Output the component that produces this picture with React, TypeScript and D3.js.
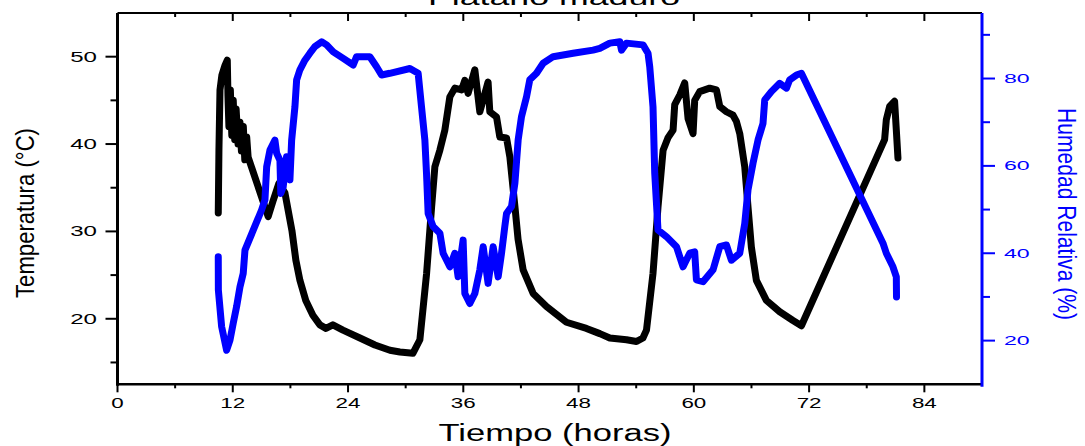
import React from "react";
import * as d3 from "d3";

const chartTitle = "Plátano maduro";
const xTitle = "Tiempo (horas)";
const yLeftTitle = "Temperatura (°C)";
const yRightTitle = "Humedad Relativa (%)";

const xMajorTicks = [0, 12, 24, 36, 48, 60, 72, 84];
const xMinorTicks = [6, 18, 30, 42, 54, 66, 78];
const yLeftMajorTicks = [20, 30, 40, 50];
const yLeftMinorTicks = [15, 25, 35, 45];
const yRightMajorTicks = [20, 40, 60, 80];
const yRightMinorTicks = [30, 50, 70, 90];

const tempHours = [
  10.49, 10.56, 10.67, 10.87, 11.19, 11.43, 11.5, 11.6, 11.75, 11.9, 12.05, 12.2, 12.35, 12.55,
  12.75, 12.9, 13.1, 13.25, 13.45, 13.6, 15.69, 16.2, 16.8, 17.43, 18.16, 18.57, 18.99, 19.6,
  20.34, 21.07, 21.7, 22.42, 23.47, 25.24, 26.8, 28.36, 29.4, 30.75, 31.48, 32.18, 32.7, 33.04,
  33.56, 34.08, 34.6, 35.12, 35.82, 36.16, 36.5, 37.2, 37.72, 38.58, 38.76, 39.46, 39.8, 40.5,
  40.85, 41.37, 41.7, 42.23, 43.27, 44.66, 46.74, 48.82, 50.21, 51.25, 52.99, 54.03, 54.7, 55.07,
  55.75, 56.27, 56.8, 57.3, 57.84, 58.01, 58.53, 59.05, 59.4, 59.92, 60.09, 60.61, 61.65, 62.35,
  62.7, 63.39, 64.08, 64.43, 64.78, 65.3, 65.64, 65.99, 66.51, 67.55, 68.94, 70.32, 71.2, 79.86,
  80.04, 80.38, 80.9, 81.08, 81.25,
];
const tempValues = [
  32.1, 39.3, 46.2, 47.9, 49.0, 49.6, 45.5, 42.0, 46.2, 41.0, 45.0, 40.5, 44.0, 40.0,
  42.5, 39.2, 42.0, 38.2, 40.8, 38.5, 31.7, 33.5, 35.5, 34.4, 30.1, 26.7, 24.4, 22.1,
  20.4, 19.3, 18.9, 19.3, 18.7, 17.8, 17.0, 16.4, 16.2, 16.05, 17.6, 25.2, 32.8, 37.4,
  39.3, 41.6, 45.4, 46.4, 46.2, 47.3, 45.8, 48.5, 43.7, 47.1, 43.7, 43.1, 40.8, 40.7,
  38.5, 32.9, 29.1, 25.6, 22.9, 21.4, 19.6, 18.9, 18.3, 17.8, 17.6, 17.4, 17.8, 18.7,
  25.2, 32.8, 39.3, 40.7, 41.6, 44.5, 45.6, 47.0, 42.9, 41.2, 45.0, 46.0, 46.4, 46.2,
  44.3, 43.7, 43.3, 42.6, 41.2, 37.4, 32.8, 28.2, 24.4, 22.1, 20.8, 19.8, 19.2, 40.5,
  42.8, 44.3, 44.9, 41.6, 38.4,
];

const humHours = [
  10.49, 10.5, 10.84, 11.36, 11.71, 12.05, 12.4, 12.75, 13.09, 13.27, 15.0, 15.35, 15.53, 15.87,
  16.39, 16.57, 16.91, 17.0, 17.25, 17.6, 17.95, 18.13, 18.47, 18.65, 18.99, 19.51, 20.03, 20.55,
  21.25, 21.77, 22.46, 23.5, 24.54, 24.89, 26.27, 26.97, 27.49, 28.35, 30.44, 31.3, 31.65, 32.0,
  32.17, 32.34, 32.86, 33.56, 33.9, 34.6, 35.12, 35.46, 35.98, 36.16, 36.68, 37.2, 37.72, 38.07,
  38.58, 39.11, 39.63, 39.98, 40.32, 40.5, 41.02, 41.37, 41.71, 42.06, 42.58, 42.92, 43.62, 44.31,
  45.35, 47.43, 49.51, 50.21, 51.25, 52.29, 52.47, 52.99, 54.71, 55.23, 55.41, 55.75, 55.93, 56.27,
  57.15, 58.19, 58.88, 59.57, 60.09, 60.27, 60.96, 62.0, 62.7, 63.39, 63.91, 64.78, 65.3, 65.64,
  66.16, 66.68, 67.2, 67.38, 68.07, 68.94, 69.64, 69.98, 70.68, 71.2, 79.69, 80.04, 80.73, 81.08,
  81.1,
];
const humValues = [
  39.2, 31.6, 23.2, 17.8, 20.1, 24.0, 27.8, 32.3, 35.4, 40.7, 49.9, 52.2, 59.8, 63.6,
  65.9, 62.9, 61.3, 53.7, 55.2, 62.1, 56.8, 65.9, 73.5, 79.7, 82.0, 84.2, 85.8, 87.3,
  88.4, 87.7, 86.1, 84.6, 83.1, 85.0, 85.0, 82.7, 80.8, 81.2, 82.3, 81.2, 73.5, 65.9,
  58.3, 49.1, 46.1, 44.6, 40.0, 36.9, 40.0, 34.6, 43.0, 30.8, 28.5, 30.8, 36.2, 41.5,
  33.1, 41.5, 34.6, 40.0, 46.1, 49.1, 50.7, 56.0, 65.9, 71.3, 75.8, 79.7, 81.2, 83.5,
  85.0, 85.8, 86.5, 86.9, 88.1, 88.4, 86.5, 88.1, 87.7, 85.8, 82.7, 73.5, 58.3, 45.3,
  43.8, 41.5, 36.9, 40.0, 40.3, 33.9, 33.5, 36.2, 41.5, 41.9, 38.4, 40.0, 46.8, 54.5,
  60.6, 65.9, 69.7, 75.1, 77.0, 78.9, 77.8, 79.7, 80.8, 81.2, 42.3, 40.0, 36.9, 34.6,
  30.0,
];

const FONT = "'Liberation Sans', Arial, Helvetica, sans-serif";
const BLUE = "#0000ff";

export default function App() {
  const left = 117.5;
  const right = 982;
  const top = 13;
  const bottom = 384.3;

  const x = d3.scaleLinear().domain([0, 90]).range([left, right]);
  const yT = d3.scaleLinear().domain([12.5, 55]).range([bottom, top]);
  const yH = d3.scaleLinear().domain([10, 95]).range([bottom, top]);

  const tempLine = d3
    .line<number>()
    .x((_, i) => x(tempHours[i]))
    .y((v) => yT(v));
  const humLine = d3
    .line<number>()
    .x((_, i) => x(humHours[i]))
    .y((v) => yH(v));

  return (
    <svg
      width={1085}
      height={446}
      style={{ position: "absolute", left: 0, top: 0, background: "#fff" }}
      fontFamily={FONT}
    >
      <rect x={0} y={0} width={1085} height={446} fill="#fff" />
      {/* title, partially cut off as in the reference */}
      <text x={554} y={5} textAnchor="middle" fontSize={22} textLength={252} lengthAdjust="spacingAndGlyphs" fill="#000">
        {chartTitle}
      </text>

      {/* curves */}
      <path d={tempLine(tempValues) || ""} fill="none" stroke="#000" strokeWidth={7} strokeLinejoin="round" strokeLinecap="round" />
      <path d={humLine(humValues) || ""} fill="none" stroke={BLUE} strokeWidth={7} strokeLinejoin="round" strokeLinecap="round" />

      {/* top frame */}
      <line x1={left} x2={right} y1={top} y2={top} stroke="#000" strokeWidth={2} />
      {xMajorTicks.map((t) => (
        <line key={"tM" + t} x1={x(t)} x2={x(t)} y1={top} y2={top + 8} stroke="#000" strokeWidth={2} />
      ))}
      {xMinorTicks.map((t) => (
        <line key={"tm" + t} x1={x(t)} x2={x(t)} y1={top} y2={top + 4} stroke="#000" strokeWidth={2} />
      ))}

      {/* bottom axis */}
      <line x1={left} x2={right} y1={bottom} y2={bottom} stroke="#000" strokeWidth={2.5} />
      {xMajorTicks.map((t) => (
        <line key={"bM" + t} x1={x(t)} x2={x(t)} y1={bottom} y2={bottom + 8} stroke="#000" strokeWidth={2} />
      ))}
      {xMinorTicks.map((t) => (
        <line key={"bm" + t} x1={x(t)} x2={x(t)} y1={bottom} y2={bottom + 4} stroke="#000" strokeWidth={2} />
      ))}
      {xMajorTicks.map((t) => (
        <g key={"bl" + t} transform={`translate(${x(t)},408) scale(1.6,1)`}>
          <text textAnchor="middle" fontSize={14} fill="#000">
            {t}
          </text>
        </g>
      ))}
      <text x={555} y={441} textAnchor="middle" fontSize={23} textLength={233} lengthAdjust="spacingAndGlyphs" fill="#000">
        {xTitle}
      </text>

      {/* left axis */}
      <line x1={left} x2={left} y1={top} y2={bottom + 1.5} stroke="#000" strokeWidth={3} />
      {yLeftMajorTicks.map((t) => (
        <line key={"lM" + t} x1={left - 12} x2={left} y1={yT(t)} y2={yT(t)} stroke="#000" strokeWidth={2} />
      ))}
      {yLeftMinorTicks.map((t) => (
        <line key={"lm" + t} x1={left - 7} x2={left} y1={yT(t)} y2={yT(t)} stroke="#000" strokeWidth={2} />
      ))}
      {yLeftMajorTicks.map((t) => (
        <g key={"ll" + t} transform={`translate(97,${yT(t) + 5}) scale(1.72,1)`}>
          <text textAnchor="end" fontSize={14} fill="#000">
            {t}
          </text>
        </g>
      ))}
      <text
        transform="translate(34,213) rotate(-90)"
        textAnchor="middle"
        fontSize={25}
        textLength={170}
        lengthAdjust="spacingAndGlyphs"
        fill="#000"
      >
        {yLeftTitle}
      </text>

      {/* right axis */}
      <line x1={right} x2={right} y1={top} y2={bottom + 2.5} stroke={BLUE} strokeWidth={3} />
      {yRightMajorTicks.map((t) => (
        <line key={"rM" + t} x1={right} x2={right + 13} y1={yH(t)} y2={yH(t)} stroke={BLUE} strokeWidth={2} />
      ))}
      {yRightMinorTicks.map((t) => (
        <line key={"rm" + t} x1={right} x2={right + 8} y1={yH(t)} y2={yH(t)} stroke={BLUE} strokeWidth={2} />
      ))}
      {yRightMajorTicks.map((t) => (
        <g key={"rl" + t} transform={`translate(1004,${yH(t) + 4.5}) scale(1.85,1)`}>
          <text textAnchor="start" fontSize={12.5} fill={BLUE}>
            {t}
          </text>
        </g>
      ))}
      <text
        transform="translate(1058,214) rotate(90)"
        textAnchor="middle"
        fontSize={25}
        textLength={212}
        lengthAdjust="spacingAndGlyphs"
        fill={BLUE}
      >
        {yRightTitle}
      </text>
    </svg>
  );
}
